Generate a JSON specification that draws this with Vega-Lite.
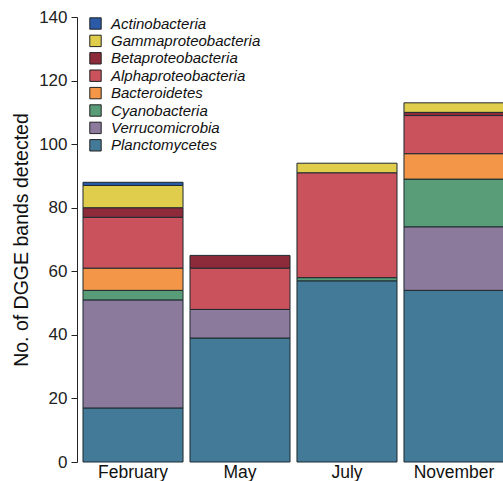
{
  "$schema": "https://vega.github.io/schema/vega-lite/v6.json",
  "autosize": {"type": "none"},
  "padding": {"left": 77, "top": 17, "right": 0, "bottom": 19},
  "width": 433,
  "height": 445,
  "background": "white",
  "config": {"view": {"stroke": null}, "font": "Liberation Sans"},
  "data": {"values": [
    {"month": "February", "taxon": "Planctomycetes", "ord": 1, "n": 17},
    {"month": "February", "taxon": "Verrucomicrobia", "ord": 2, "n": 34},
    {"month": "February", "taxon": "Cyanobacteria", "ord": 3, "n": 3},
    {"month": "February", "taxon": "Bacteroidetes", "ord": 4, "n": 7},
    {"month": "February", "taxon": "Alphaproteobacteria", "ord": 5, "n": 16},
    {"month": "February", "taxon": "Betaproteobacteria", "ord": 6, "n": 3},
    {"month": "February", "taxon": "Gammaproteobacteria", "ord": 7, "n": 7},
    {"month": "February", "taxon": "Actinobacteria", "ord": 8, "n": 1},
    {"month": "May", "taxon": "Planctomycetes", "ord": 1, "n": 39},
    {"month": "May", "taxon": "Verrucomicrobia", "ord": 2, "n": 9},
    {"month": "May", "taxon": "Alphaproteobacteria", "ord": 5, "n": 13},
    {"month": "May", "taxon": "Betaproteobacteria", "ord": 6, "n": 4},
    {"month": "July", "taxon": "Planctomycetes", "ord": 1, "n": 57},
    {"month": "July", "taxon": "Cyanobacteria", "ord": 3, "n": 1},
    {"month": "July", "taxon": "Alphaproteobacteria", "ord": 5, "n": 33},
    {"month": "July", "taxon": "Gammaproteobacteria", "ord": 7, "n": 3},
    {"month": "November", "taxon": "Planctomycetes", "ord": 1, "n": 54},
    {"month": "November", "taxon": "Verrucomicrobia", "ord": 2, "n": 20},
    {"month": "November", "taxon": "Cyanobacteria", "ord": 3, "n": 15},
    {"month": "November", "taxon": "Bacteroidetes", "ord": 4, "n": 8},
    {"month": "November", "taxon": "Alphaproteobacteria", "ord": 5, "n": 12},
    {"month": "November", "taxon": "Betaproteobacteria", "ord": 6, "n": 1},
    {"month": "November", "taxon": "Gammaproteobacteria", "ord": 7, "n": 3}
  ]},
  "mark": {"type": "bar", "stroke": "#1e2a30", "strokeWidth": 1, "opacity": 1},
  "encoding": {
    "x": {
      "field": "month", "type": "nominal", "sort": ["February", "May", "July", "November"],
      "scale": {"paddingInner": 0.065, "paddingOuter": 0.056},
      "axis": {"title": null, "domain": false, "ticks": false, "labelAngle": 0, "labelFontSize": 17.5, "labelColor": "#111", "labelPadding": 1}
    },
    "y": {
      "field": "n", "type": "quantitative", "stack": "zero",
      "scale": {"domain": [0, 140], "nice": false},
      "axis": {"title": "No. of DGGE bands detected", "values": [0, 20, 40, 60, 80, 100, 120, 140], "grid": false,
        "domainColor": "#222", "tickColor": "#222", "tickSize": 6, "labelFontSize": 17, "labelColor": "#222", "labelPadding": 4,
        "titleFontSize": 19.5, "titleFontWeight": "normal", "titleColor": "#111", "titlePadding": 7}
    },
    "color": {
      "field": "taxon", "type": "nominal",
      "scale": {
        "domain": ["Actinobacteria", "Gammaproteobacteria", "Betaproteobacteria", "Alphaproteobacteria", "Bacteroidetes", "Cyanobacteria", "Verrucomicrobia", "Planctomycetes"],
        "range": ["#2b5aa6", "#e1cd4c", "#8d2b3b", "#c9525c", "#f49647", "#589d78", "#8b7a9b", "#427a98"]
      },
      "legend": {"title": null, "orient": "none", "legendX": 11, "legendY": -1, "symbolType": "square", "symbolSize": 130,
        "symbolStrokeColor": "#222", "symbolStrokeWidth": 1, "symbolOpacity": 1, "labelFontSize": 15, "labelFontStyle": "italic", "labelColor": "#111",
        "rowPadding": 0.4, "labelOffset": 8}
    },
    "order": {"field": "ord", "type": "quantitative"}
  }
}
